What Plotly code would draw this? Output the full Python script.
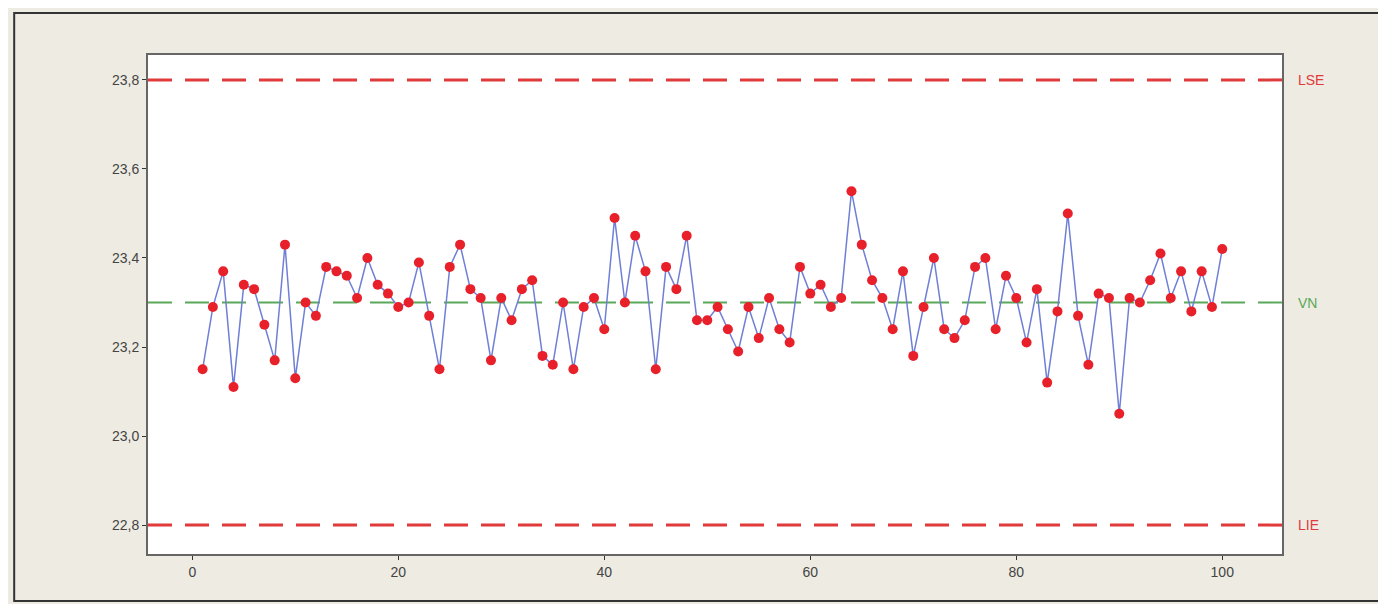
import plotly.graph_objects as go

obs = list(range(1, 101))
values = [
    23.15, 23.29, 23.37, 23.11, 23.34, 23.33, 23.25, 23.17, 23.43, 23.13,
    23.30, 23.27, 23.38, 23.37, 23.36, 23.31, 23.40, 23.34, 23.32, 23.29,
    23.30, 23.39, 23.27, 23.15, 23.38, 23.43, 23.33, 23.31, 23.17, 23.31,
    23.26, 23.33, 23.35, 23.18, 23.16, 23.30, 23.15, 23.29, 23.31, 23.24,
    23.49, 23.30, 23.45, 23.37, 23.15, 23.38, 23.33, 23.45, 23.26, 23.26,
    23.29, 23.24, 23.19, 23.29, 23.22, 23.31, 23.24, 23.21, 23.38, 23.32,
    23.34, 23.29, 23.31, 23.55, 23.43, 23.35, 23.31, 23.24, 23.37, 23.18,
    23.29, 23.40, 23.24, 23.22, 23.26, 23.38, 23.40, 23.24, 23.36, 23.31,
    23.21, 23.33, 23.12, 23.28, 23.50, 23.27, 23.16, 23.32, 23.31, 23.05,
    23.31, 23.30, 23.35, 23.41, 23.31, 23.37, 23.28, 23.37, 23.29, 23.42,
]
limit_names = ["LSE", "VN", "LIE"]
limit_values = [23.8, 23.3, 22.8]
limit_colors = ["#e03a3a", "#5aa85a", "#e03a3a"]
x_ticks = [0, 20, 40, 60, 80, 100]
y_ticks = [22.8, 23.0, 23.2, 23.4, 23.6, 23.8]

fig = go.Figure()

for name, val, col in zip(limit_names, limit_values, limit_colors):
    fig.add_hline(y=val, line=dict(color=col, width=3 if name != "VN" else 2, dash="24px,13px"), layer="below")
    fig.add_annotation(x=1.0, xref="paper", y=val, yref="y", text=name, showarrow=False,
                       xanchor="left", xshift=14, font=dict(color=col, size=14, family="Liberation Sans"))

fig.add_trace(go.Scatter(
    x=obs, y=values, mode="lines+markers",
    line=dict(color="#6f7fd6", width=1.5),
    marker=dict(color="#e8202a", size=10, symbol="circle", line=dict(width=0)),
    showlegend=False,
))

fig.add_shape(type="rect", xref="paper", yref="paper", x0=-0.118, x1=1.25, y0=-0.094, y1=1.084,
              line=dict(color="#333333", width=2), fillcolor="rgba(0,0,0,0)", layer="below")

fig.update_layout(
    width=1378, height=596,
    margin=dict(l=140, r=104, t=47, b=50),
    paper_bgcolor="#eeebe2",
    plot_bgcolor="#ffffff",
    separators=",.",
    font=dict(family="Liberation Sans", size=14, color="#444444"),
    xaxis=dict(range=[-4.3, 105.8], tickvals=x_ticks, showgrid=False, zeroline=False,
               showline=True, linecolor="#666666", linewidth=2, mirror=True,
               ticks="outside", ticklen=4, tickcolor="#333333"),
    yaxis=dict(range=[22.735, 23.856], tickvals=y_ticks, tickformat=".1f", showgrid=False,
               zeroline=False, showline=True, linecolor="#666666", linewidth=2, mirror=True,
               ticks="outside", ticklen=4, tickcolor="#333333"),
)

fig.write_html("out.html")
